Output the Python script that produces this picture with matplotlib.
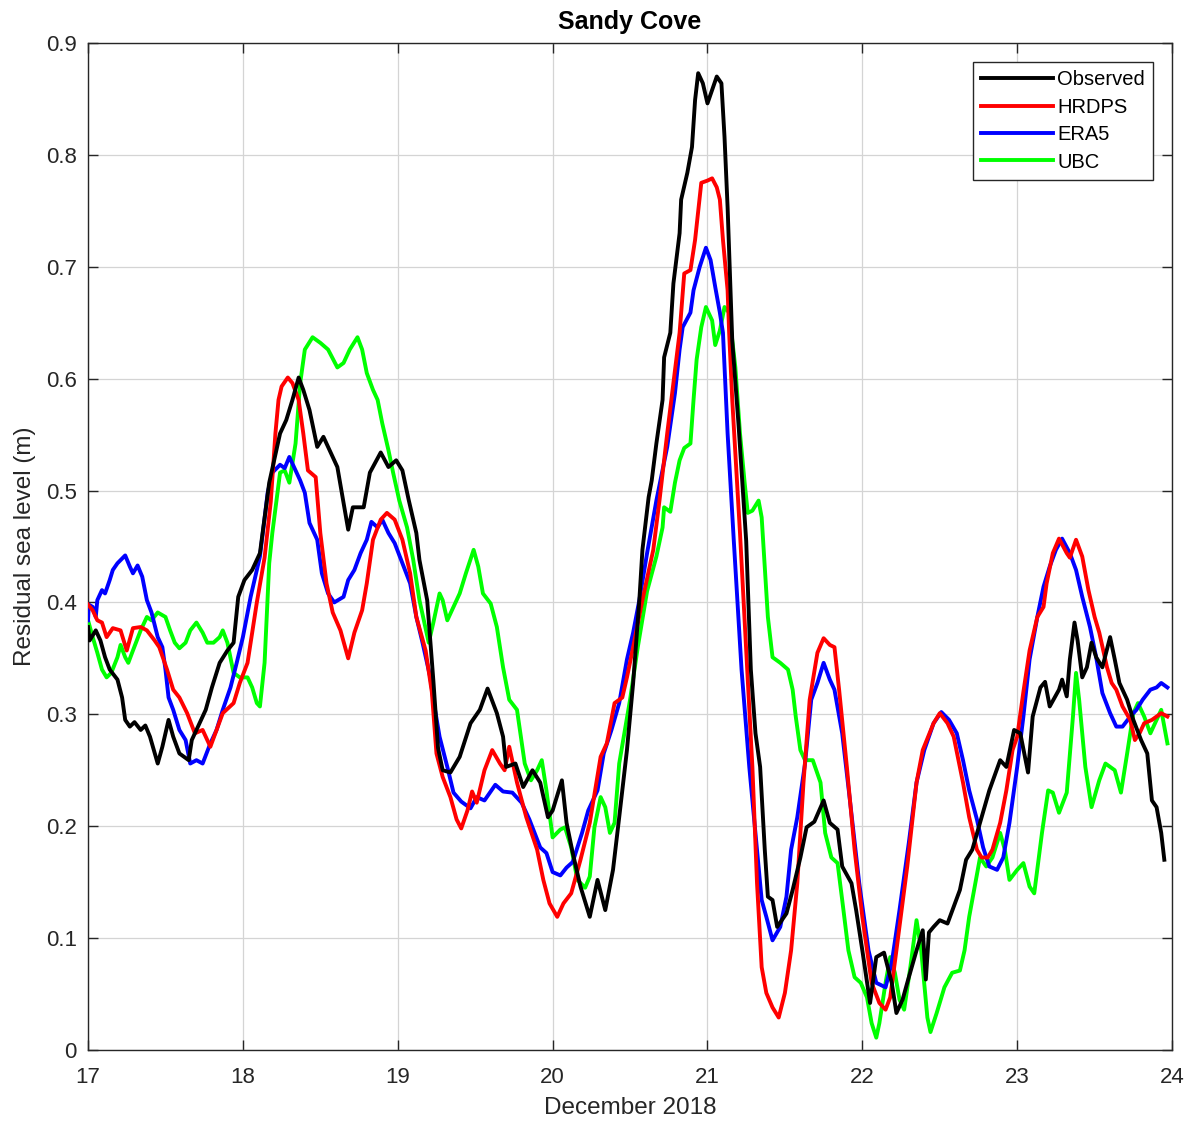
import matplotlib
matplotlib.use("Agg")
import matplotlib.pyplot as plt

# time axis in days of December 2018, values = residual sea level (m)

obs_t = [17.00, 17.01, 17.05, 17.08, 17.11, 17.14, 17.19, 17.22, 17.24, 17.27,
         17.30, 17.34, 17.37, 17.40, 17.45, 17.48, 17.52, 17.55, 17.59, 17.65,
         17.67, 17.71, 17.76, 17.80, 17.85, 17.90, 17.94, 17.97, 18.01, 18.06,
         18.11, 18.17, 18.24, 18.28, 18.32, 18.36, 18.39, 18.43, 18.48, 18.52,
         18.56, 18.61, 18.65, 18.68, 18.71, 18.78, 18.82, 18.89, 18.94, 18.99,
         19.03, 19.07, 19.12, 19.14, 19.19, 19.23, 19.26, 19.29, 19.34, 19.40,
         19.47, 19.53, 19.58, 19.64, 19.68, 19.70, 19.76, 19.81, 19.87, 19.92,
         19.97, 20.00, 20.06, 20.09, 20.13, 20.18, 20.24, 20.29, 20.34, 20.39,
         20.43, 20.48, 20.52, 20.56, 20.58, 20.62, 20.64, 20.67, 20.71, 20.72,
         20.76, 20.78, 20.82, 20.83, 20.87, 20.90, 20.92, 20.94, 20.97, 21.00,
         21.03, 21.06, 21.09, 21.11, 21.13, 21.16, 21.20, 21.25, 21.28, 21.31,
         21.34, 21.37, 21.39, 21.42, 21.45, 21.51, 21.55, 21.60, 21.64, 21.69,
         21.75, 21.79, 21.84, 21.87, 21.93, 21.96, 22.00, 22.05, 22.09, 22.14,
         22.19, 22.22, 22.26, 22.29, 22.35, 22.39, 22.41, 22.43, 22.46, 22.50,
         22.55, 22.59, 22.63, 22.67, 22.71, 22.76, 22.82, 22.89, 22.93, 22.98,
         23.02, 23.07, 23.10, 23.15, 23.18, 23.21, 23.27, 23.29, 23.32, 23.34,
         23.37, 23.39, 23.42, 23.45, 23.48, 23.51, 23.55, 23.60, 23.63, 23.66,
         23.71, 23.75, 23.80, 23.84, 23.87, 23.90, 23.93, 23.95]
obs_v = [0.378, 0.366, 0.375, 0.366, 0.351, 0.340, 0.331, 0.315, 0.295, 0.289,
         0.293, 0.286, 0.290, 0.280, 0.256, 0.271, 0.295, 0.280, 0.265, 0.259,
         0.277, 0.289, 0.304, 0.324, 0.346, 0.357, 0.364, 0.405, 0.420, 0.429,
         0.444, 0.507, 0.551, 0.563, 0.581, 0.601, 0.590, 0.572, 0.539, 0.548,
         0.536, 0.521, 0.489, 0.465, 0.485, 0.485, 0.516, 0.534, 0.521, 0.527,
         0.518, 0.492, 0.462, 0.438, 0.402, 0.330, 0.270, 0.250, 0.248, 0.262,
         0.292, 0.304, 0.323, 0.301, 0.280, 0.253, 0.256, 0.235, 0.250, 0.239,
         0.208, 0.214, 0.241, 0.203, 0.176, 0.146, 0.119, 0.152, 0.125, 0.161,
         0.208, 0.268, 0.328, 0.402, 0.447, 0.494, 0.509, 0.542, 0.581, 0.619,
         0.641, 0.685, 0.730, 0.760, 0.784, 0.807, 0.849, 0.873, 0.864, 0.846,
         0.858, 0.870, 0.864, 0.816, 0.753, 0.634, 0.560, 0.455, 0.340, 0.283,
         0.253, 0.179, 0.137, 0.134, 0.110, 0.122, 0.143, 0.172, 0.199, 0.204,
         0.223, 0.203, 0.197, 0.164, 0.149, 0.125, 0.089, 0.042, 0.083, 0.087,
         0.060, 0.033, 0.045, 0.060, 0.089, 0.107, 0.063, 0.105, 0.110, 0.116,
         0.113, 0.128, 0.143, 0.170, 0.179, 0.203, 0.232, 0.259, 0.253, 0.286,
         0.283, 0.248, 0.298, 0.324, 0.329, 0.307, 0.322, 0.331, 0.316, 0.349,
         0.382, 0.366, 0.333, 0.342, 0.364, 0.351, 0.342, 0.369, 0.349, 0.328,
         0.313, 0.295, 0.277, 0.265, 0.223, 0.217, 0.194, 0.170]

hrdps_t = [17.00, 17.03, 17.06, 17.09, 17.12, 17.16, 17.21, 17.25, 17.29, 17.34,
           17.38, 17.43, 17.46, 17.51, 17.55, 17.59, 17.64, 17.69, 17.74, 17.79,
           17.83, 17.87, 17.94, 17.98, 18.03, 18.09, 18.14, 18.18, 18.21, 18.23,
           18.25, 18.29, 18.32, 18.36, 18.39, 18.42, 18.47, 18.50, 18.54, 18.58,
           18.63, 18.68, 18.72, 18.77, 18.80, 18.84, 18.89, 18.93, 18.98, 19.03,
           19.08, 19.12, 19.18, 19.22, 19.25, 19.29, 19.34, 19.38, 19.41, 19.45,
           19.48, 19.51, 19.56, 19.61, 19.66, 19.69, 19.72, 19.77, 19.83, 19.90,
           19.94, 19.98, 20.03, 20.07, 20.12, 20.18, 20.24, 20.31, 20.35, 20.40,
           20.45, 20.48, 20.52, 20.58, 20.65, 20.69, 20.74, 20.78, 20.82, 20.85,
           20.89, 20.92, 20.96, 21.00, 21.03, 21.06, 21.08, 21.10, 21.13, 21.14,
           21.16, 21.21, 21.25, 21.29, 21.32, 21.35, 21.38, 21.42, 21.46, 21.50,
           21.54, 21.58, 21.62, 21.66, 21.71, 21.75, 21.79, 21.82, 21.85, 21.90,
           21.95, 22.00, 22.06, 22.11, 22.15, 22.18, 22.22, 22.29, 22.35, 22.39,
           22.46, 22.50, 22.55, 22.59, 22.65, 22.69, 22.74, 22.77, 22.81, 22.84,
           22.89, 22.93, 22.97, 23.00, 23.04, 23.08, 23.13, 23.17, 23.19, 23.23,
           23.27, 23.32, 23.34, 23.38, 23.42, 23.46, 23.50, 23.53, 23.58, 23.61,
           23.64, 23.68, 23.73, 23.76, 23.79, 23.82, 23.87, 23.90, 23.93, 23.97]
hrdps_v = [0.398, 0.393, 0.384, 0.382, 0.369, 0.377, 0.375, 0.357, 0.377, 0.378,
           0.375, 0.366, 0.360, 0.340, 0.322, 0.315, 0.301, 0.283, 0.286, 0.271,
           0.286, 0.301, 0.310, 0.328, 0.346, 0.400, 0.440, 0.490, 0.551, 0.581,
           0.593, 0.601, 0.596, 0.581, 0.551, 0.518, 0.512, 0.462, 0.417, 0.391,
           0.375, 0.350, 0.373, 0.393, 0.417, 0.456, 0.474, 0.480, 0.474, 0.456,
           0.426, 0.387, 0.357, 0.320, 0.265, 0.244, 0.226, 0.206, 0.198, 0.214,
           0.231, 0.221, 0.250, 0.268, 0.256, 0.250, 0.271, 0.239, 0.208, 0.179,
           0.152, 0.131, 0.119, 0.131, 0.140, 0.170, 0.203, 0.262, 0.274, 0.310,
           0.315, 0.333, 0.360, 0.402, 0.447, 0.491, 0.551, 0.596, 0.641, 0.694,
           0.697, 0.724, 0.775, 0.777, 0.779, 0.771, 0.760, 0.724, 0.679, 0.641,
           0.581, 0.462, 0.357, 0.253, 0.149, 0.074, 0.051, 0.038, 0.029, 0.051,
           0.089, 0.149, 0.239, 0.313, 0.355, 0.368, 0.362, 0.360, 0.322, 0.253,
           0.179, 0.119, 0.060, 0.042, 0.036, 0.047, 0.089, 0.164, 0.239, 0.268,
           0.292, 0.301, 0.292, 0.280, 0.239, 0.208, 0.179, 0.172, 0.172, 0.179,
           0.203, 0.232, 0.268, 0.280, 0.320, 0.357, 0.387, 0.396, 0.417, 0.444,
           0.457, 0.444, 0.440, 0.456, 0.441, 0.411, 0.387, 0.373, 0.342, 0.328,
           0.322, 0.307, 0.295, 0.277, 0.283, 0.292, 0.295, 0.298, 0.301, 0.298]

era5_t = [17.00, 17.005, 17.03, 17.05, 17.06, 17.09, 17.11, 17.14, 17.16, 17.19,
          17.24, 17.27, 17.29, 17.32, 17.35, 17.38, 17.41, 17.45, 17.48, 17.50,
          17.52, 17.55, 17.59, 17.63, 17.66, 17.70, 17.74, 17.79, 17.83, 17.87,
          17.92, 17.96, 18.00, 18.05, 18.11, 18.16, 18.19, 18.24, 18.27, 18.30,
          18.34, 18.37, 18.40, 18.43, 18.48, 18.51, 18.55, 18.59, 18.65, 18.68,
          18.72, 18.76, 18.80, 18.83, 18.87, 18.90, 18.94, 18.98, 19.03, 19.08,
          19.12, 19.16, 19.21, 19.23, 19.27, 19.32, 19.36, 19.41, 19.47, 19.51,
          19.56, 19.63, 19.68, 19.74, 19.80, 19.85, 19.92, 19.96, 20.00, 20.05,
          20.09, 20.13, 20.19, 20.23, 20.29, 20.33, 20.38, 20.43, 20.48, 20.52,
          20.56, 20.61, 20.67, 20.74, 20.79, 20.82, 20.84, 20.89, 20.91, 20.95,
          20.99, 21.02, 21.05, 21.08, 21.10, 21.13, 21.17, 21.22, 21.27, 21.32,
          21.35, 21.38, 21.42, 21.47, 21.51, 21.54, 21.58, 21.63, 21.67, 21.71,
          21.75, 21.79, 21.82, 21.87, 21.92, 21.98, 22.04, 22.09, 22.15, 22.19,
          22.24, 22.30, 22.35, 22.40, 22.46, 22.51, 22.56, 22.61, 22.65, 22.69,
          22.74, 22.78, 22.82, 22.87, 22.91, 22.95, 23.00, 23.04, 23.08, 23.13,
          23.17, 23.21, 23.25, 23.29, 23.34, 23.38, 23.42, 23.47, 23.51, 23.55,
          23.60, 23.64, 23.68, 23.73, 23.77, 23.81, 23.86, 23.90, 23.93, 23.97]
era5_v = [0.384, 0.398, 0.396, 0.387, 0.402, 0.411, 0.408, 0.420, 0.429, 0.435,
          0.442, 0.432, 0.426, 0.433, 0.423, 0.402, 0.391, 0.369, 0.360, 0.340,
          0.315, 0.304, 0.286, 0.277, 0.256, 0.259, 0.256, 0.274, 0.286, 0.304,
          0.324, 0.346, 0.369, 0.405, 0.441, 0.498, 0.516, 0.523, 0.520, 0.530,
          0.518, 0.509, 0.498, 0.471, 0.456, 0.426, 0.408, 0.400, 0.405, 0.420,
          0.429, 0.444, 0.456, 0.472, 0.467, 0.474, 0.462, 0.453, 0.435, 0.417,
          0.387, 0.364, 0.333, 0.313, 0.280, 0.253, 0.230, 0.222, 0.216, 0.226,
          0.223, 0.237, 0.231, 0.230, 0.221, 0.206, 0.181, 0.176, 0.159, 0.156,
          0.163, 0.168, 0.194, 0.214, 0.232, 0.265, 0.286, 0.310, 0.349, 0.373,
          0.402, 0.444, 0.491, 0.539, 0.587, 0.626, 0.646, 0.659, 0.679, 0.700,
          0.717, 0.706, 0.682, 0.659, 0.641, 0.551, 0.455, 0.340, 0.253, 0.179,
          0.134, 0.119, 0.098, 0.110, 0.137, 0.179, 0.208, 0.256, 0.313, 0.328,
          0.346, 0.331, 0.322, 0.283, 0.223, 0.149, 0.089, 0.060, 0.056, 0.078,
          0.125, 0.185, 0.239, 0.268, 0.292, 0.302, 0.295, 0.283, 0.259, 0.232,
          0.206, 0.181, 0.164, 0.161, 0.172, 0.203, 0.253, 0.298, 0.349, 0.387,
          0.414, 0.432, 0.447, 0.457, 0.444, 0.429, 0.405, 0.378, 0.351, 0.319,
          0.301, 0.289, 0.289, 0.298, 0.304, 0.313, 0.322, 0.324, 0.328, 0.324]

ubc_t = [17.00, 17.03, 17.06, 17.09, 17.12, 17.15, 17.19, 17.21, 17.24, 17.26,
         17.29, 17.34, 17.38, 17.41, 17.45, 17.50, 17.53, 17.56, 17.59, 17.63,
         17.66, 17.70, 17.74, 17.77, 17.81, 17.85, 17.87, 17.90, 17.94, 17.98,
         18.03, 18.06, 18.09, 18.11, 18.14, 18.17, 18.19, 18.24, 18.27, 18.30,
         18.34, 18.37, 18.40, 18.45, 18.50, 18.55, 18.61, 18.65, 18.69, 18.74,
         18.77, 18.80, 18.84, 18.87, 18.90, 18.94, 18.97, 19.01, 19.06, 19.10,
         19.14, 19.20, 19.23, 19.27, 19.29, 19.32, 19.36, 19.40, 19.44, 19.49,
         19.52, 19.55, 19.60, 19.64, 19.68, 19.72, 19.77, 19.82, 19.86, 19.90,
         19.93, 19.96, 20.00, 20.05, 20.08, 20.12, 20.16, 20.21, 20.24, 20.27,
         20.31, 20.34, 20.37, 20.40, 20.43, 20.50, 20.55, 20.61, 20.67, 20.71,
         20.72, 20.76, 20.79, 20.82, 20.85, 20.89, 20.91, 20.93, 20.96, 20.99,
         21.03, 21.05, 21.08, 21.11, 21.14, 21.18, 21.21, 21.24, 21.26, 21.29,
         21.33, 21.35, 21.37, 21.39, 21.42, 21.47, 21.52, 21.55, 21.57, 21.60,
         21.63, 21.68, 21.73, 21.76, 21.80, 21.84, 21.87, 21.91, 21.95, 21.99,
         22.03, 22.06, 22.09, 22.11, 22.15, 22.18, 22.21, 22.24, 22.27, 22.31,
         22.35, 22.38, 22.42, 22.44, 22.48, 22.53, 22.58, 22.63, 22.66, 22.69,
         22.73, 22.76, 22.80, 22.84, 22.89, 22.92, 22.95, 23.00, 23.04, 23.08,
         23.11, 23.16, 23.20, 23.23, 23.27, 23.32, 23.36, 23.38, 23.40, 23.44,
         23.48, 23.53, 23.57, 23.63, 23.67, 23.71, 23.75, 23.78, 23.82, 23.86,
         23.90, 23.93, 23.95, 23.97]
ubc_v = [0.384, 0.369, 0.355, 0.340, 0.333, 0.337, 0.351, 0.362, 0.351, 0.346,
         0.357, 0.375, 0.387, 0.384, 0.391, 0.387, 0.375, 0.364, 0.359, 0.364,
         0.375, 0.382, 0.373, 0.364, 0.364, 0.369, 0.375, 0.364, 0.337, 0.333,
         0.333, 0.324, 0.310, 0.307, 0.346, 0.435, 0.462, 0.516, 0.518, 0.507,
         0.542, 0.596, 0.626, 0.637, 0.632, 0.626, 0.610, 0.614, 0.626, 0.637,
         0.626, 0.605, 0.590, 0.581, 0.560, 0.536, 0.516, 0.491, 0.467, 0.438,
         0.402, 0.364, 0.382, 0.408, 0.402, 0.384, 0.396, 0.408, 0.426, 0.447,
         0.432, 0.408, 0.399, 0.378, 0.342, 0.313, 0.304, 0.256, 0.241, 0.250,
         0.259, 0.232, 0.190, 0.197, 0.199, 0.181, 0.152, 0.145, 0.155, 0.199,
         0.226, 0.217, 0.194, 0.203, 0.256, 0.313, 0.360, 0.410, 0.441, 0.467,
         0.485, 0.481, 0.507, 0.527, 0.538, 0.542, 0.581, 0.617, 0.646, 0.664,
         0.652, 0.630, 0.643, 0.664, 0.659, 0.610, 0.551, 0.507, 0.480, 0.482,
         0.491, 0.476, 0.432, 0.387, 0.351, 0.346, 0.340, 0.322, 0.298, 0.268,
         0.259, 0.259, 0.239, 0.194, 0.172, 0.167, 0.134, 0.089, 0.065, 0.060,
         0.047, 0.024, 0.011, 0.024, 0.060, 0.083, 0.069, 0.045, 0.036, 0.074,
         0.116, 0.089, 0.029, 0.016, 0.033, 0.056, 0.069, 0.071, 0.089, 0.119,
         0.149, 0.172, 0.164, 0.172, 0.194, 0.179, 0.152, 0.161, 0.167, 0.146,
         0.140, 0.194, 0.232, 0.230, 0.212, 0.230, 0.298, 0.337, 0.313, 0.253,
         0.217, 0.241, 0.256, 0.250, 0.230, 0.265, 0.301, 0.310, 0.298, 0.283,
         0.295, 0.304, 0.289, 0.274]

labels = ["Observed", "HRDPS", "ERA5", "UBC"]
colors = ["black", "#ff0000", "#0000ff", "#00ff00"]

x_ticks = [17, 18, 19, 20, 21, 22, 23, 24]
y_ticks = [0, 0.1, 0.2, 0.3, 0.4, 0.5, 0.6, 0.7, 0.8, 0.9]

plt.rcParams["font.family"] = ["Liberation Sans", "DejaVu Sans"]

fig = plt.figure(figsize=(12.01, 11.22), dpi=100)
ax = fig.add_axes([0.0733, 0.0642, 0.9026, 0.8975])

series = [(obs_t, obs_v), (hrdps_t, hrdps_v), (era5_t, era5_v), (ubc_t, ubc_v)]
# draw UBC first so observed ends up on top like the original
order = [3, 2, 1, 0]
handles = [None] * 4
for i in order:
    t, v = series[i]
    line, = ax.plot(t, v, color=colors[i], lw=2.8, label=labels[i],
                    solid_joinstyle="round", zorder=3 + (3 - i))
    handles[i] = line

ax.set_xlim(17, 24)
ax.set_ylim(0, 0.9)
ax.set_xticks(x_ticks)
ax.set_yticks(y_ticks)
ax.set_xticklabels([str(x) for x in x_ticks])
ax.set_yticklabels(["0"] + ["%.1f" % y for y in y_ticks[1:]])

ax.grid(True, color="#d4d4d4", lw=0.9)
ax.set_axisbelow(True)

for s in ax.spines.values():
    s.set_color("#262626")
    s.set_linewidth(1.0)

ax.tick_params(direction="in", length=7, width=1.0, color="#262626",
               labelcolor="#262626", labelsize=16, top=True, right=True)
ax.tick_params(axis="x", pad=12)
ax.tick_params(axis="y", pad=8)

ax.set_title("Sandy Cove", fontsize=18, fontweight="bold", color="black", pad=10)
ax.set_xlabel("December 2018", fontsize=17.5, color="#262626", labelpad=7)
ax.set_ylabel("Residual sea level (m)", fontsize=17.5, color="#262626", labelpad=7)

leg = ax.legend(handles, labels, loc="upper right", bbox_to_anchor=(0.9825, 0.981),
                borderaxespad=0, fontsize=14.5, handlelength=3.6, handletextpad=0.2,
                labelspacing=0.42, borderpad=0.4, fancybox=False, framealpha=1,
                edgecolor="#262626")
leg.get_frame().set_linewidth(1.0)

fig.savefig("out.png", dpi=100)
